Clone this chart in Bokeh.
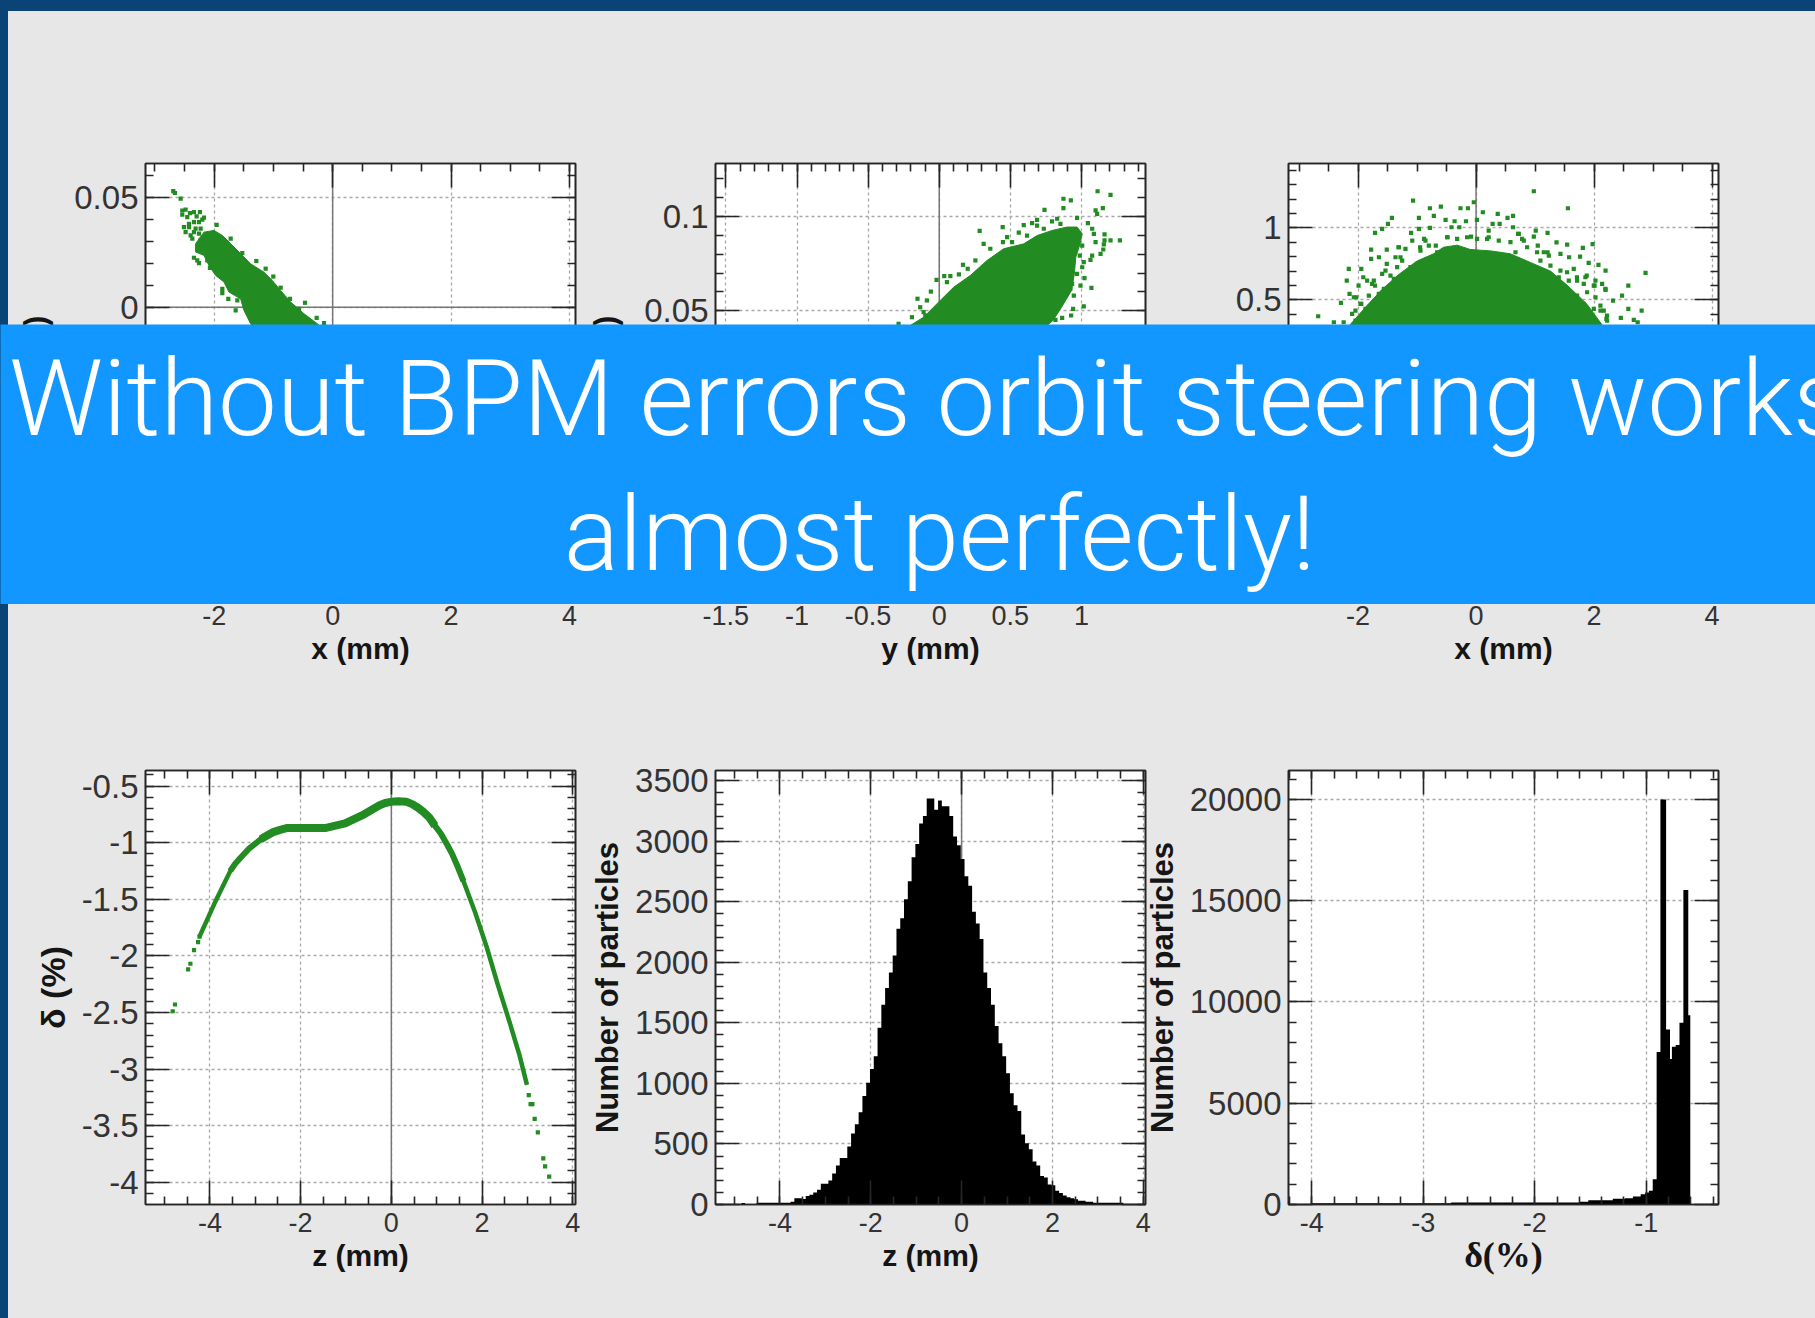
import numpy as np
from bokeh.embed import file_html
from bokeh.resources import INLINE
from bokeh.plotting import figure
from bokeh.layouts import row, column
from bokeh.models import (LinearAxis, Grid, FixedTicker, Range1d, Span, Label,
                          CustomJSTickFormatter, GlobalInlineStyleSheet)

# ---- panel 1: x / x'
p1_core_x = [-2.173,-2.004,-1.863,-1.72,-1.526,-1.385,-1.160,-1.019,-0.878,-0.709,-0.484,-0.259,0.023,1.0,1.5,0.8,-0.2,-1.216,-1.385,-1.497,-1.554,-1.751,-1.835,-1.976,-2.089,-2.173,-2.314,-2.314]
p1_core_y = [0.0343,0.0351,0.0328,0.0290,0.0237,0.0198,0.0160,0.0122,0.0076,0.0023,-0.0030,-0.0076,-0.0137,-0.06,-0.095,-0.1,-0.06,-0.0137,-0.0076,-0.0015,0.0038,0.0069,0.0115,0.0145,0.0191,0.0237,0.0252,0.0290]
p1_x = [-2.691,-2.663,-2.567,-2.539,-2.483,-2.539,-2.455,-2.342,-2.241,-2.409,-2.297,-2.201,-2.173,-2.257,-2.342,-2.426,-2.511,-2.426,-2.314,-2.229,-2.483,-2.398,-2.342,-2.257,-2.370,-2.229,-1.959,-2.342,-2.257,-2.286,-2.117,-2.072,-1.722,-1.526,-1.289,-1.131,-1.002,-0.878,-0.720,-0.467,-0.270,-0.146,-0.568,-1.863,-1.863,-1.762,-1.638,-1.610]
p1_y = [0.0531,0.0522,0.0496,0.0442,0.0446,0.0423,0.0412,0.0435,0.0435,0.0430,0.0415,0.0400,0.0409,0.0389,0.0389,0.0381,0.0366,0.0366,0.0359,0.0359,0.0343,0.0328,0.0343,0.0336,0.0313,0.0308,0.0376,0.0226,0.0201,0.0214,0.0214,0.0180,0.0313,0.0247,0.0211,0.0176,0.0140,0.0089,0.0038,0.0020,-0.0049,-0.0073,-0.0008,0.0084,0.0064,0.0038,-0.0015,0.0031]

# ---- panel 2: y / y'
p2_core_x = [-0.204,-0.110,-0.005,0.101,0.218,0.336,0.453,0.594,0.688,0.793,0.899,0.969,1.005,0.99,0.96,0.95,0.93,0.86,0.80,0.758,0.6,0.2,-0.4,-0.8,-0.6]
p2_core_y = [0.0422,0.0466,0.0546,0.0625,0.0687,0.0767,0.0829,0.0855,0.0899,0.0926,0.0944,0.0944,0.0908,0.0855,0.0784,0.0696,0.0608,0.0519,0.0449,0.0422,0.0,-0.03,-0.05,-0.04,0.01]
p2_x = [1.113,1.204,0.873,0.925,0.873,0.740,1.150,1.099,1.110,0.969,0.688,0.829,0.793,0.653,0.594,0.446,0.284,1.045,1.075,1.087,1.162,1.204,1.270,1.162,1.099,1.157,1.153,1.134,1.075,1.063,1.016,1.005,0.988,1.005,0.969,1.021,0.934,0.993,1.070,0.946,0.922,1.016,0.941,0.927,0.864,0.817,0.559,0.477,0.312,0.359,0.448,0.512,0.617,0.688,0.735,0.852,0.167,0.254,0.200,0.138,0.078,0.035,-0.019,0.054,-0.059,-0.153,-0.087,-0.134,-0.110,-0.286,-0.192,-0.098]
p2_y = [0.1134,0.1115,0.1094,0.1085,0.1044,0.1035,0.1044,0.1032,0.1014,0.0993,0.0982,0.0988,0.0974,0.0965,0.0954,0.0944,0.0924,0.0965,0.0935,0.0908,0.0905,0.0873,0.0873,0.0873,0.0864,0.0852,0.0825,0.0802,0.0793,0.0770,0.0758,0.0846,0.0793,0.0731,0.0696,0.0673,0.0643,0.0634,0.0622,0.0581,0.0617,0.0523,0.0510,0.0475,0.0463,0.0452,0.0914,0.0891,0.0855,0.0829,0.0864,0.0864,0.0899,0.0952,0.0935,0.0961,0.0744,0.0767,0.0723,0.0693,0.0684,0.0684,0.0664,0.0652,0.0602,0.0564,0.0555,0.0519,0.0493,0.0431,0.0466,0.0475]

# ---- panel 3: x / y
p3_core_x = [-2.13,-1.85,-1.6,-1.3,-1.0,-0.72,-0.55,-0.32,-0.1,0.25,0.58,0.92,1.26,1.55,1.88,2.13,2.3,2.0,0.5,-1.0,-2.2]
p3_core_y = [0.33,0.46,0.57,0.68,0.77,0.82,0.8655,0.88,0.85,0.84,0.82,0.76,0.70,0.60,0.47,0.33,0.0,-0.6,-1.0,-0.8,-0.2]
p3_x = [0.979,1.557,-1.068,-0.038,-0.783,-0.597,-0.264,-0.138,0.115,0.367,0.627,0.533,-1.427,-0.969,-0.716,-0.517,0.015,-0.364,-0.171,0.281,0.400,-1.494,-1.593,-1.713,-1.102,-0.969,-0.783,-0.417,-0.284,0.627,0.214,1.012,1.212,0.713,0.979,-1.082,-0.882,-0.484,-0.085,0.214,0.780,1.364,1.544,1.810,1.976,-1.779,-1.514,-1.314,-0.949,-0.683,1.046,1.212,1.431,1.577,1.763,1.909,2.075,2.195,2.873,-2.158,-1.946,-1.779,-1.647,-1.514,-1.281,-2.192,-1.912,-1.713,-1.992,-2.145,-2.032,-2.291,-1.946,-2.677,-2.411,-2.245,-2.045,1.710,1.876,2.009,2.195,2.581,2.475,2.322,2.581,2.807,2.454,2.674,2.740,2.109,2.209,
        -1.310,-1.197,-1.366,-1.253,-1.338,-1.536,-1.592,-1.451,-1.112,-0.999,-0.943,-0.858,-0.801,-0.660,-0.773,-1.056,-1.225,-1.394,-1.734,-1.847,-1.762,-1.649,-1.564,-1.451,-1.818,-2.072,-1.960,-1.875,-2.101,-2.044,-1.931,-0.491,-0.321,-0.152,0.018,0.187,0.385,0.583,0.724,0.809,0.865,0.668,1.035,1.148,1.091,1.233,1.261,1.035,1.430,1.543,1.656,1.402,1.572,1.713,1.854,1.826,2.024,1.996,2.137,2.193,1.882,2.024,1.713,1.543,2.108,2.165,2.221,2.221,1.996,1.826,1.769]
p3_y = [1.2544,1.1363,1.1896,1.1780,1.1363,1.1479,1.1363,1.1363,1.1086,1.0970,1.0831,1.0692,1.0692,1.0692,1.0831,1.0553,1.0553,1.0461,1.0461,1.0276,1.0276,1.0276,0.9928,0.9651,0.9651,0.9928,0.9998,1.0044,1.0044,1.0044,0.9812,0.9812,0.9651,0.9581,0.9396,0.9118,0.9234,0.9350,0.9396,0.9350,0.9234,0.8999,0.8840,0.8609,0.8864,0.8493,0.8493,0.8655,0.8655,0.8771,0.8771,0.8308,0.8192,0.7961,0.8007,0.7567,0.7428,0.7035,0.6873,0.7151,0.7151,0.7845,0.7961,0.7498,0.7961,0.6340,0.6572,0.5993,0.5993,0.5414,0.5183,0.4789,0.4720,0.3863,0.3447,0.3447,0.4257,0.6572,0.6687,0.5993,0.5692,0.5993,0.5299,0.4952,0.4373,0.4257,0.3748,0.3609,0.3447,0.4257,0.3678,
        0.8655,0.8540,0.7961,0.7729,0.7267,0.7035,0.6803,0.6688,0.7267,0.7498,0.8424,0.9118,0.8771,0.8308,0.7729,0.6688,0.6572,0.6456,0.6340,0.6340,0.6109,0.5414,0.5762,0.5183,0.5299,0.5183,0.4721,0.4373,0.4026,0.3563,0.3794,0.9350,0.9234,0.9350,0.9234,0.9234,0.9118,0.9003,0.9581,0.9118,0.8655,0.8308,0.8308,0.8308,0.7729,0.8077,0.7382,0.7151,0.7035,0.6919,0.7151,0.6572,0.6340,0.6340,0.6572,0.6109,0.6340,0.5993,0.6109,0.5762,0.5530,0.5183,0.5299,0.5299,0.4604,0.4257,0.3910,0.3563,0.4373,0.4720,0.4141]

# ---- panel 4: z / delta
p4_iso_z = [-4.82,-4.77,-4.48,-4.43,-4.35,-4.26,-4.23,3.03,3.07,3.11,3.16,3.23,3.35,3.39,3.48]
p4_iso_d = [-2.49,-2.43,-2.12,-2.07,-1.95,-1.88,-1.83,-3.23,-3.31,-3.31,-3.44,-3.56,-3.79,-3.86,-3.95]
p4_z = [-4.23,-4.06,-3.89,-3.72,-3.55,-3.45,-3.34,-3.13,-3.0,-2.88,-2.75,-2.62,-2.47,-2.29,-1.87,-1.44,-1.02,-0.81,-0.60,-0.43,-0.26,-0.135,-0.01,0.16,0.33,0.46,0.58,0.71,0.84,0.96,1.09,1.22,1.34,1.47,1.59,1.85,2.10,2.35,2.61,2.82,2.99]
p4_d = [-1.83,-1.68,-1.53,-1.39,-1.25,-1.19,-1.14,-1.05,-1.01,-0.97,-0.94,-0.91,-0.89,-0.87,-0.87,-0.87,-0.83,-0.79,-0.75,-0.71,-0.67,-0.65,-0.64,-0.634,-0.64,-0.66,-0.69,-0.73,-0.78,-0.85,-0.92,-1.01,-1.10,-1.22,-1.34,-1.62,-1.92,-2.26,-2.59,-2.87,-3.14]
p4_band_z = [z for z in p4_z if -3.6 < z < 1.6]
p4_band_d = [d for z, d in zip(p4_z, p4_d) if -3.6 < z < 1.6]
p4_core_z = [z for z in p4_z if -2.9 < z < 1.0]
p4_core_d = [d for z, d in zip(p4_z, p4_d) if -2.9 < z < 1.0]

# ---- panel 5: histogram of z
hz_first_edge = -4.85
hz_bin = 0.0833
hz_counts = [12,5,5,5,15,15,15,15,15,15,15,15,15,23,51,51,45,71,80,100,122,171,171,199,256,321,384,384,478,586,663,762,896,1004,1118,1223,1459,1649,1786,1914,2056,2275,2363,2519,2667,2866,2975,3145,3207,3350,3350,3258,3335,3287,3287,3207,3037,2966,2852,2710,2630,2417,2320,2192,1914,1786,1649,1473,1331,1223,1083,918,819,771,577,506,455,355,321,236,222,165,159,114,94,74,60,51,43,31,31,23,23,15,15,15,15,15,15,15,15]

# ---- panel 6: histogram of delta
hd_edges = [-4.0,-3.125,-2.75,-2.54,-1.6,-1.52,-1.30,-1.19,-1.12,-1.05,-1.01,-0.976,-0.942,-0.907,-0.873,-0.822,-0.787,-0.770,-0.736,-0.702,-0.667,-0.623,-0.605]
hd_counts = [60,60,100,100,136,204,289,306,391,510,595,680,1241,7534,20000,8639,7190,7789,7873,8980,15530,9350]

# ---- banner
banner_lines = ["Without BPM errors orbit steering works", "almost perfectly!"]

GREEN = "#228b22"
INK = "#262626"
PAGE_BLUE = "#0a4477"
BANNER = "#1296ff"
PANEL = "#e7e7e7"

sheet = GlobalInlineStyleSheet(css=f"""
html {{ background:
  linear-gradient({PAGE_BLUE},{PAGE_BLUE}) 0 0/100% 11px no-repeat,
  linear-gradient({PAGE_BLUE},{PAGE_BLUE}) 0 0/8px 100% no-repeat,
  {PANEL}; }}
""")


def lab(t):
    return f"{t:g}"


def panel(x_rng, y_rng, xt, yt, xm, ym, xlabel, ylabel, borders, total, zero_h=False,
          zero_v=True, xlabel_font="Liberation Sans", xlabel_size="30px", xlabel_off=4,
          ylabel_size="31px", margin=0):
    left, right, top, bottom = borders
    p = figure(width=total[0], height=total[1], x_range=Range1d(*x_rng), y_range=Range1d(*y_rng),
               x_axis_location=None, y_axis_location=None, toolbar_location=None,
               output_backend="svg", min_border_left=left, min_border_right=right,
               min_border_top=top, min_border_bottom=bottom, border_fill_color=None,
               background_fill_color="white", outline_line_color=INK, outline_line_width=1.6,
               margin=margin)
    p.grid.visible = False
    xminor = [float(v) for v in np.arange(np.ceil(x_rng[0] / xm) * xm, x_rng[1], xm)]
    yminor = [float(v) for v in np.arange(np.ceil(y_rng[0] / ym) * ym, y_rng[1], ym)]
    xtick = FixedTicker(ticks=xt, minor_ticks=xminor)
    ytick = FixedTicker(ticks=yt, minor_ticks=yminor)
    blank = CustomJSTickFormatter(code="return ''")
    for place, ticker in (("below", xtick), ("above", xtick), ("left", ytick), ("right", ytick)):
        ax = LinearAxis(ticker=ticker, axis_line_color=INK, axis_line_width=1.6,
                        major_tick_in=24, major_tick_out=0, minor_tick_in=8, minor_tick_out=0,
                        major_tick_line_color=INK, major_tick_line_width=1.6,
                        minor_tick_line_color=INK, minor_tick_line_width=1.6)
        if place == "below":
            ax.major_label_overrides = {t: lab(t) for t in xt}
            ax.major_label_text_font = "Liberation Sans"
            ax.major_label_text_font_size = "27px"
            ax.major_label_text_color = "#333333"
            ax.major_label_standoff = 8
            ax.axis_label = xlabel
            ax.axis_label_text_font = xlabel_font
            ax.axis_label_text_font_size = xlabel_size
            ax.axis_label_text_font_style = "bold"
            ax.axis_label_text_color = "#151515"
            ax.axis_label_standoff = xlabel_off
        elif place == "left":
            ax.major_label_overrides = {t: lab(t) for t in yt}
            ax.major_label_text_font = "Liberation Sans"
            ax.major_label_text_font_size = "33px"
            ax.major_label_text_color = "#333333"
            ax.major_label_standoff = 7
            ax.axis_label = ylabel
            ax.axis_label_text_font = "Liberation Sans"
            ax.axis_label_text_font_size = ylabel_size
            ax.axis_label_text_font_style = "bold"
            ax.axis_label_text_color = "#151515"
            ax.axis_label_standoff = 7
        else:
            ax.formatter = blank
            ax.major_label_text_font_size = "0px"
            ax.major_label_standoff = 0
        p.add_layout(ax, place)
    for dim, tick in ((0, xtick), (1, ytick)):
        p.add_layout(Grid(dimension=dim, ticker=tick, grid_line_color="#a8a8a8",
                          grid_line_width=1.3, grid_line_dash="3 3"))
    if zero_v:
        p.add_layout(Span(location=0, dimension="height", line_color="#777777",
                          line_width=1.5, level="underlay"))
    if zero_h:
        p.add_layout(Span(location=0, dimension="width", line_color="#777777",
                          line_width=1.5, level="underlay"))
    return p


W1, W2, W3 = 590, 574, 675
B1 = (145, 15)
B2 = (137, 7)
B3 = (148, 97)
SHIFT = (0, 0, 0, -12)
TB_TOP = (163, 83)
TB_BOT = (90, 114)
H_TOP, H_BOT = 680, 638
DOT = 4.2

p1 = panel((-3.16, 4.10), (-0.1328, 0.0657), [-2, 0, 2, 4], [-0.1, -0.05, 0, 0.05], 0.5, 0.01,
           "x (mm)", "x' (mrad)", B1 + TB_TOP, (W1, H_TOP), zero_h=True)
p1.patch(p1_core_x, p1_core_y, fill_color=GREEN, line_color=GREEN)
p1.scatter(p1_x, p1_y, marker="square", size=DOT, color=GREEN, line_color=None)

p2 = panel((-1.573, 1.45), (-0.102, 0.1281), [-1.5, -1, -0.5, 0, 0.5, 1], [-0.05, 0, 0.05, 0.1], 0.1, 0.01,
           "y (mm)", "y' (mrad)", B2 + TB_TOP, (W2, H_TOP), zero_h=True, margin=SHIFT)
p2.patch(p2_core_x, p2_core_y, fill_color=GREEN, line_color=GREEN)
p2.scatter(p2_x, p2_y, marker="square", size=DOT, color=GREEN, line_color=None)

p3 = panel((-3.18, 4.11), (-1.567, 1.447), [-2, 0, 2, 4], [-1.5, -1, -0.5, 0, 0.5, 1], 0.5, 0.1,
           "x (mm)", "y (mm)", B3 + TB_TOP, (W3, H_TOP), zero_h=True, margin=SHIFT)
p3.patch(p3_core_x, p3_core_y, fill_color=GREEN, line_color=GREEN)
p3.scatter(p3_x, p3_y, marker="square", size=DOT, color=GREEN, line_color=None)

p4 = panel((-5.42, 4.06), (-4.197, -0.363), [-4, -2, 0, 2, 4], [-4, -3.5, -3, -2.5, -2, -1.5, -1, -0.5], 0.5, 0.1,
           "z (mm)", "δ (%)", B1 + TB_BOT, (W1, H_BOT), ylabel_size="34px")
p4.line(p4_z, p4_d, line_color=GREEN, line_width=4.5, line_join="round")
p4.line(p4_band_z, p4_band_d, line_color=GREEN, line_width=6, line_join="round")
p4.line(p4_core_z, p4_core_d, line_color=GREEN, line_width=8, line_join="round")
p4.scatter(p4_iso_z, p4_iso_d, marker="square", size=DOT, color=GREEN, line_color=None)

p5 = panel((-5.42, 4.05), (0, 3582), [-4, -2, 0, 2, 4], [0, 500, 1000, 1500, 2000, 2500, 3000, 3500], 0.5, 100,
           "z (mm)", "Number of particles", B2 + TB_BOT, (W2, H_BOT), margin=SHIFT)
hz_edges = [hz_first_edge + i * hz_bin for i in range(len(hz_counts) + 1)]
p5.varea_step(x=hz_edges, y1=[0] * len(hz_edges), y2=hz_counts + [hz_counts[-1]], step_mode="after",
              fill_color="black")

p6 = panel((-4.209, -0.352), (0, 21430), [-4, -3, -2, -1], [0, 5000, 10000, 15000, 20000], 0.2, 1000,
           "δ(%)", "Number of particles", B3 + TB_BOT, (W3, H_BOT), zero_v=False,
           xlabel_font="Liberation Serif", xlabel_size="36px", xlabel_off=0, margin=SHIFT)
p6.varea_step(x=hd_edges, y1=[0] * len(hd_edges), y2=hd_counts + [hd_counts[-1]], step_mode="after",
              fill_color="black")

banner = figure(width=1815, height=280, x_range=Range1d(0, 1), y_range=Range1d(0, 1),
                x_axis_location=None, y_axis_location=None, toolbar_location=None,
                output_backend="svg", min_border=0, border_fill_color=BANNER,
                background_fill_color=BANNER, outline_line_color=None,
                margin=(-356, 0, 76, 0))
banner.grid.visible = False
for txt, cx, base, size in zip(banner_lines, (927, 939), (205, 70), ("105px", "103px")):
    banner.add_layout(Label(x=cx, y=base, x_units="screen", y_units="screen", text=txt,
                            text_align="center", text_baseline="alphabetic",
                            text_font="Roboto Light", text_font_size=size, text_color="white"))

layout = column(row(p1, p2, p3, spacing=0), banner, row(p4, p5, p6, spacing=0), spacing=0)
layout.stylesheets = [sheet]

open("out.html", "w").write(file_html(layout, INLINE))
